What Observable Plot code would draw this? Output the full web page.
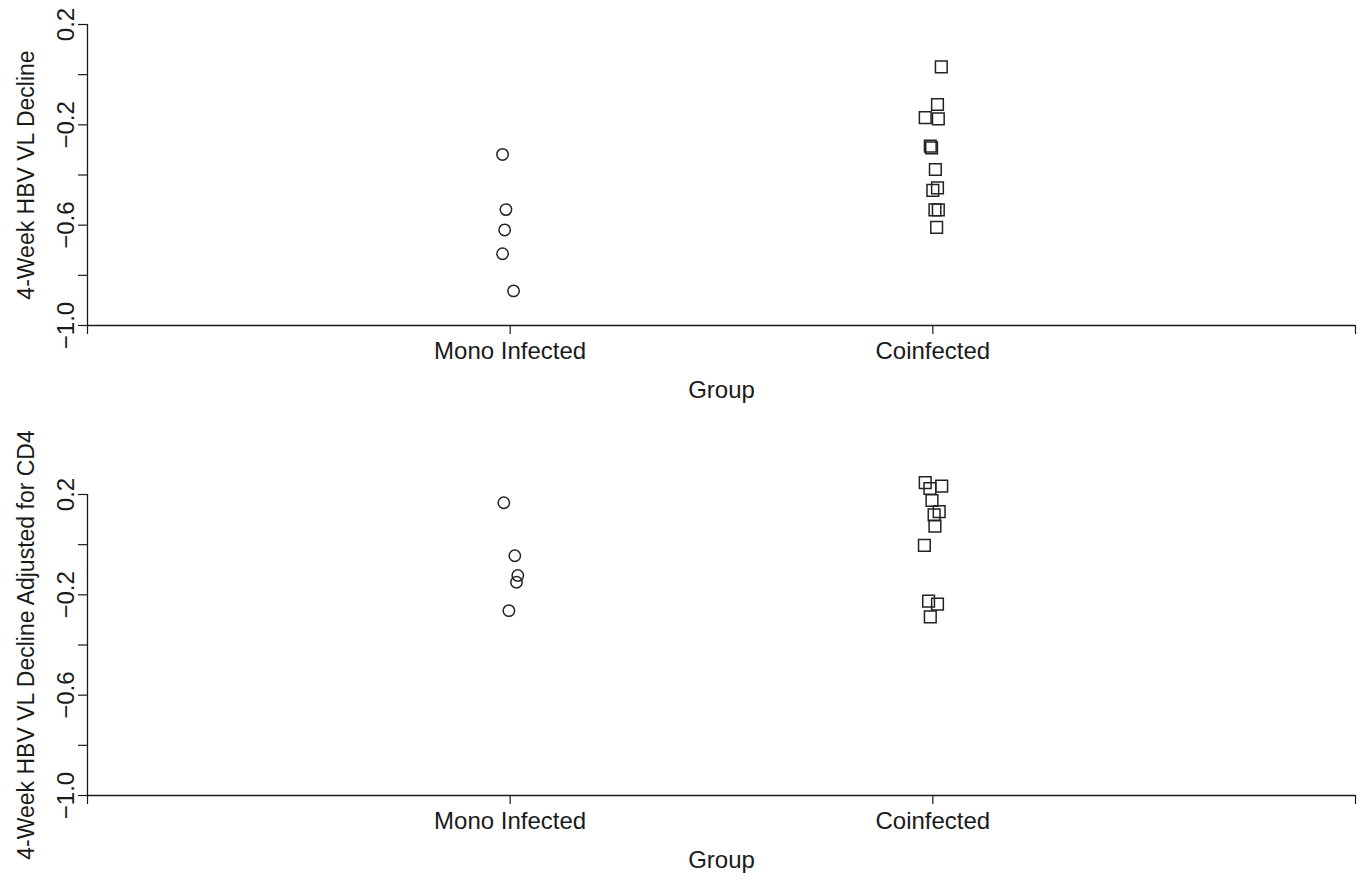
<!DOCTYPE html>
<html>
<head>
<meta charset="utf-8">
<script src="https://cdn.jsdelivr.net/npm/d3@7"></script>
<script src="https://cdn.jsdelivr.net/npm/@observablehq/plot@0.6"></script>
<style>
  body { margin: 0; background: #fff; }
  #chart { width: 1361px; }
  #chart svg { display: block; overflow: visible; }
</style>
</head>
<body>
<div id="chart"></div>
<script>
// Groups on the x axis (positions 1 and 2 on a 0–3 axis)
const groups = ["Mono Infected", "Coinfected"];
const groupPos = [1, 2];
const xTicks = [0, 1, 2, 3];

// y axis ticks; only some of them carry a label
const yTicks = [-1.0, -0.8, -0.6, -0.4, -0.2, 0.0, 0.2];
const yLabeled = [0.2, -0.2, -0.6, -1.0];

// 4-week HBV VL decline (log10), with horizontal jitter per point
const monoDecline = [-0.318, -0.538, -0.619, -0.714, -0.862];
const monoDeclineJitter = [-0.018, -0.010, -0.013, -0.018, 0.008];
const coDecline = [0.031, -0.119, -0.171, -0.176, -0.285, -0.292, -0.378, -0.451, -0.461, -0.539, -0.539, -0.609];
const coDeclineJitter = [0.020, 0.011, -0.018, 0.013, -0.006, -0.003, 0.006, 0.011, 0.000, 0.005, 0.013, 0.009];

// 4-week HBV VL decline adjusted for CD4
const monoAdjusted = [0.167, -0.044, -0.123, -0.150, -0.263];
const monoAdjustedJitter = [-0.015, 0.011, 0.018, 0.015, -0.003];
const coAdjusted = [0.247, 0.224, 0.233, 0.176, 0.132, 0.119, 0.074, -0.003, -0.225, -0.237, -0.288];
const coAdjustedJitter = [-0.018, -0.007, 0.021, -0.002, 0.015, 0.003, 0.005, -0.020, -0.010, 0.011, -0.006];

const ink = "#1a1a1a";
const font = "'Liberation Sans', Arial, Helvetica, sans-serif";
const fs = 24;
const fmt = d3.format(".1f");

function rows(values, jitter, gi) {
  return values.map((v, i) => ({x: groupPos[gi] + jitter[i], y: v}));
}

function panel({title, mono, monoJ, co, coJ, height, marginTop}) {
  const label = {fontSize: fs, fill: ink, textAnchor: "middle", lineAnchor: "middle"};
  return Plot.plot({
    width: 1361,
    height,
    marginTop,
    marginBottom: 85,
    marginLeft: 87,
    marginRight: 6,
    style: {background: "#fff", color: ink, fontFamily: font, overflow: "visible"},
    x: {domain: [0, 3], axis: null},
    y: {domain: [-1, 0.2], axis: null},
    marks: [
      Plot.ruleX([0], {stroke: ink, strokeWidth: 1.3}),
      Plot.ruleY([-1], {stroke: ink, strokeWidth: 1.3}),
      Plot.axisY({ticks: yTicks, tickSize: 9, tickFormat: () => "", label: null, stroke: ink, strokeWidth: 1.2}),
      Plot.axisX({ticks: xTicks, tickSize: 9, tickFormat: () => "", label: null, stroke: ink, strokeWidth: 1.2}),
      Plot.text(yLabeled, {y: d => d, text: d => fmt(d), frameAnchor: "left", dx: -21, rotate: -90, ...label}),
      Plot.text(groups, {x: (d, i) => groupPos[i], text: d => d, frameAnchor: "bottom", dy: 26, ...label}),
      Plot.text(["Group"], {text: d => d, frameAnchor: "bottom", dy: 65, ...label}),
      Plot.text([title], {text: d => d, frameAnchor: "left", dx: -61, rotate: -90, ...label, fontSize: 23}),
      Plot.dot(rows(mono, monoJ, 0), {x: "x", y: "y", symbol: "circle", r: 5.7, fill: "none", stroke: "#222", strokeWidth: 1.5}),
      Plot.dot(rows(co, coJ, 1), {x: "x", y: "y", symbol: "square", r: 6.6, fill: "none", stroke: "#222", strokeWidth: 1.5})
    ]
  });
}

const chart = document.getElementById("chart");
chart.append(panel({
  title: "4-Week HBV VL Decline",
  mono: monoDecline, monoJ: monoDeclineJitter,
  co: coDecline, coJ: coDeclineJitter,
  height: 410, marginTop: 24
}));
chart.append(panel({
  title: "4-Week HBV VL Decline Adjusted for CD4",
  mono: monoAdjusted, monoJ: monoAdjustedJitter,
  co: coAdjusted, coJ: coAdjustedJitter,
  height: 470, marginTop: 84
}));
</script>
</body>
</html>
